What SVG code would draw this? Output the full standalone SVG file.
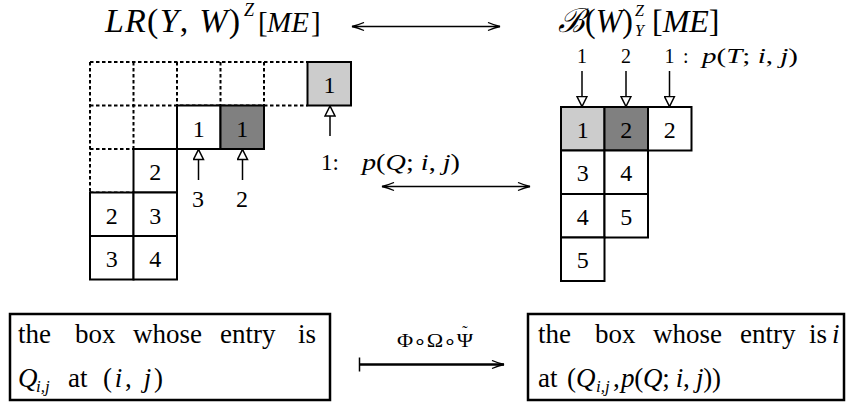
<svg xmlns="http://www.w3.org/2000/svg" width="847" height="404" viewBox="0 0 847 404">
<style>
.cell{stroke:#000;stroke-width:2;fill:#fff}
.lg{fill:#cccccc}
.dg{fill:#808080}
.dash{stroke:#000;stroke-width:2;stroke-dasharray:3.5 2.5;fill:none}
.t{font-family:"Liberation Serif","Times New Roman",serif;fill:#000}
.d{font-size:24px;text-anchor:middle}
.it{font-style:italic}
.ln{stroke:#000;stroke-width:1.5;fill:none}
.box{stroke:#000;stroke-width:2.5;fill:#fff}
</style>
<defs>
<marker id="tri" viewBox="0 0 12 12" markerWidth="12" markerHeight="12" refX="11" refY="6" orient="auto" markerUnits="userSpaceOnUse">
<path d="M1,1 L11,6 L1,11 Z" fill="#fff" stroke="#000" stroke-width="1.5"/>
</marker>
<marker id="chev" viewBox="0 0 14 10" markerWidth="14" markerHeight="10" refX="13" refY="5" orient="auto-start-reverse" markerUnits="userSpaceOnUse">
<path d="M1,1 Q8,4 13,5 Q8,6 1,9" fill="none" stroke="#000" stroke-width="1.3"/>
</marker>
</defs>
<rect width="847" height="404" fill="#fff"/>

<g id="title-left" class="t">
<text x="105" y="32" font-size="34" textLength="135" lengthAdjust="spacing"><tspan class="it">LR</tspan>(<tspan class="it">Y</tspan>, <tspan class="it">W</tspan>)</text>
<text x="244" y="16" font-size="18" class="it">Z</text>
<text x="258" y="32" font-size="29">[</text>
<text x="267" y="32" font-size="29" class="it">ME</text>
<text x="311" y="32" font-size="29">]</text>
</g>

<g id="title-right" class="t">
<text x="558" y="32" font-size="33" textLength="75" lengthAdjust="spacingAndGlyphs"><tspan font-family="DejaVu Serif, serif" font-style="italic">ℬ</tspan>(<tspan class="it">W</tspan>)</text>
<text x="635" y="16" font-size="16" class="it">Z</text>
<text x="635" y="36" font-size="16" class="it">Y</text>
<text x="652" y="32" font-size="32">[<tspan class="it">ME</tspan>]</text>
</g>

<g id="grid-left">
<path class="dash" d="M90,62 H307.5 M90,105.5 H307.5 M90,149 H133.5 M90,192.5 H133.5 M90,62 V192.5 M133.5,62 V149 M177,62 V105.5 M220.5,62 V105.5 M264,62 V105.5"/>
<rect class="cell lg" x="307.5" y="62" width="43.5" height="43.5"/>
<rect class="cell" x="177" y="105.5" width="43.5" height="43.5"/>
<rect class="cell dg" x="220.5" y="105.5" width="43.5" height="43.5"/>
<rect class="cell" x="133.5" y="149" width="43.5" height="43.5"/>
<rect class="cell" x="90" y="192.5" width="43.5" height="43.5"/>
<rect class="cell" x="133.5" y="192.5" width="43.5" height="43.5"/>
<rect class="cell" x="90" y="236" width="43.5" height="43.5"/>
<rect class="cell" x="133.5" y="236" width="43.5" height="43.5"/>
<g class="t d">
<text x="329.5" y="93">1</text>
<text x="198.75" y="136.5">1</text>
<text x="242.25" y="136.5">1</text>
<text x="155.25" y="180">2</text>
<text x="111.75" y="223.5">2</text>
<text x="155.25" y="223.5">3</text>
<text x="111.75" y="267">3</text>
<text x="155.25" y="267">4</text>
</g>
</g>

<g id="grid-right">
<rect class="cell lg" x="561" y="107" width="43.5" height="43.5"/>
<rect class="cell dg" x="604.5" y="107" width="43.5" height="43.5"/>
<rect class="cell" x="648" y="107" width="43.5" height="43.5"/>
<rect class="cell" x="561" y="150.5" width="43.5" height="43.5"/>
<rect class="cell" x="604.5" y="150.5" width="43.5" height="43.5"/>
<rect class="cell" x="561" y="194" width="43.5" height="43.5"/>
<rect class="cell" x="604.5" y="194" width="43.5" height="43.5"/>
<rect class="cell" x="561" y="237.5" width="43.5" height="43.5"/>
<g class="t d">
<text x="582.75" y="137.5">1</text>
<text x="626.25" y="137.5">2</text>
<text x="669.75" y="137.5">2</text>
<text x="582.75" y="181">3</text>
<text x="626.25" y="181">4</text>
<text x="582.75" y="224.5">4</text>
<text x="626.25" y="224.5">5</text>
<text x="582.75" y="268">5</text>
</g>
</g>

<g id="labels-left" class="t">
<text class="d" x="198" y="206.5">3</text>
<text class="d" x="242" y="206.5">2</text>
<text x="321" y="170" font-size="23">1:</text>
<text x="362" y="170" font-size="24" textLength="98" lengthAdjust="spacingAndGlyphs"><tspan class="it">p</tspan>(<tspan class="it">Q</tspan>; <tspan class="it">i</tspan>, <tspan class="it">j</tspan>)</text>
</g>

<g id="labels-right" class="t">
<text x="582" y="63" font-size="20" text-anchor="middle">1</text>
<text x="626" y="63" font-size="20" text-anchor="middle">2</text>
<text x="669.5" y="63" font-size="20" text-anchor="middle">1</text>
<text x="683" y="63" font-size="20">:</text>
<text x="702" y="63" font-size="21" textLength="96" lengthAdjust="spacingAndGlyphs"><tspan class="it">p</tspan>(<tspan class="it">T</tspan>; <tspan class="it">i</tspan>, <tspan class="it">j</tspan>)</text>
</g>

<g id="box-left">
<rect class="box" x="10" y="314" width="320" height="86"/>
<text class="t" y="343" font-size="27"><tspan x="18">the</tspan><tspan x="75">box</tspan><tspan x="133">whose</tspan><tspan x="220">entry</tspan><tspan x="298">is</tspan></text>
<text class="t it" x="18" y="386.5" font-size="27">Q</text>
<text class="t it" x="36" y="392" font-size="17">i,j</text>
<text class="t" x="68" y="386.5" font-size="27">at</text>
<text class="t" x="103" y="386.5" font-size="27" textLength="60" lengthAdjust="spacing">(<tspan class="it">i</tspan>, <tspan class="it">j</tspan>)</text>
</g>

<g id="box-right">
<rect class="box" x="528" y="314" width="316" height="86"/>
<text class="t" y="343" font-size="27"><tspan x="538">the</tspan><tspan x="595">box</tspan><tspan x="653">whose</tspan><tspan x="740">entry</tspan><tspan x="809">is</tspan><tspan x="832" class="it">i</tspan></text>
<text class="t" x="538" y="386.5" font-size="27">at</text>
<text class="t" x="567" y="386.5" font-size="27">(<tspan class="it">Q</tspan></text>
<text class="t it" x="596" y="392" font-size="17">i,j</text>
<text class="t" x="613" y="386.5" font-size="27">,</text>
<text class="t" x="621" y="386.5" font-size="27" textLength="100" lengthAdjust="spacing"><tspan class="it">p</tspan>(<tspan class="it">Q</tspan>; <tspan class="it">i</tspan>, <tspan class="it">j</tspan>))</text>
</g>

<g id="connectors">
<line class="ln" x1="352" y1="26.5" x2="500" y2="26.5" marker-start="url(#chev)" marker-end="url(#chev)"/>
<line class="ln" x1="382" y1="186.5" x2="530" y2="186.5" marker-start="url(#chev)" marker-end="url(#chev)"/>
<line class="ln" x1="330" y1="136" x2="330" y2="106" marker-end="url(#tri)"/>
<line class="ln" x1="198.5" y1="180" x2="198.5" y2="149.5" marker-end="url(#tri)"/>
<line class="ln" x1="242.5" y1="180" x2="242.5" y2="149.5" marker-end="url(#tri)"/>
<line class="ln" x1="582" y1="71" x2="582" y2="106.5" marker-end="url(#tri)"/>
<line class="ln" x1="626" y1="71" x2="626" y2="106.5" marker-end="url(#tri)"/>
<line class="ln" x1="669.5" y1="71" x2="669.5" y2="106.5" marker-end="url(#tri)"/>
<line x1="359" y1="364.5" x2="504" y2="364.5" stroke="#000" stroke-width="2.5" marker-end="url(#chev)"/>
<line class="ln" x1="359.5" y1="357.5" x2="359.5" y2="371.5"/>
<text class="t" x="397" y="347" font-size="18" textLength="76" lengthAdjust="spacingAndGlyphs">Φ∘Ω∘Ψ</text>
<text class="t" x="465" y="337" font-size="16" text-anchor="middle">˜</text>
</g>
</svg>
